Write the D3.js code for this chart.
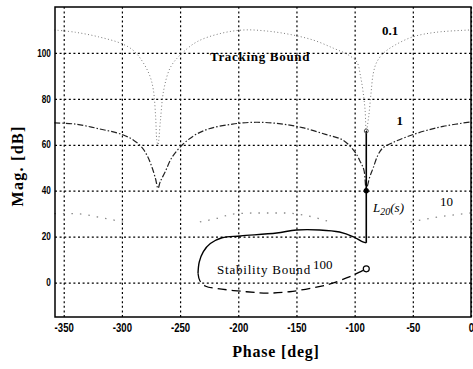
<!DOCTYPE html>
<html>
<head>
<meta charset="utf-8">
<script src="https://cdn.jsdelivr.net/npm/d3@7"></script>
<style>
  body { margin: 0; background: #fff; }
  .grid line { stroke: #000; stroke-width: 1.2; stroke-dasharray: 2,2.6; }
  .grid path { display: none; }
  .xlab text { font-family: "Liberation Sans", Arial, sans-serif; font-size: 12px; font-weight: bold; fill: #000; }
  .ylab text { font-family: "Liberation Sans", Arial, sans-serif; font-size: 10px; font-weight: bold; fill: #000; }
  .title { font-family: "Liberation Serif", "Times New Roman", serif; font-weight: bold; font-size: 16px; fill: #000; }
  .note { font-family: "Liberation Serif", "Times New Roman", serif; font-size: 13px; fill: #000; }
</style>
</head>
<body>
<script>
var xTicks = [-350, -300, -250, -200, -150, -100, -50, 0];
var yTicks = [0, 20, 40, 60, 80, 100];

// tracking bound, w = 0.1
var track01Phase = [-358, -340, -320, -300, -290, -282, -276, -273, -271, -270, -269, -267, -264, -258, -248, -235, -215, -195, -175, -155, -135, -118, -105, -98, -95, -93, -91, -90, -88, -86, -84, -81, -75, -65, -50, -30, 0];
var track01Mag = [110, 109, 107, 104, 101, 96, 90, 84, 72, 62, 60, 70, 84, 94, 100, 105, 108.5, 110, 109.5, 108, 105.5, 102, 99, 96, 90, 84, 75, 66, 72, 82, 91, 96, 100, 103.5, 107, 109, 110];

// tracking bound, w = 1
var track1Phase = [-358, -340, -320, -300, -290, -283, -278, -274, -271, -269, -267, -263, -257, -248, -238, -225, -205, -185, -165, -145, -125, -110, -100, -95, -92, -90, -87, -84, -80, -76, -67, -55, -40, -24, 0];
var track1Mag = [69.5, 69, 67, 64.5, 62, 59, 55, 50, 45, 41, 44, 48, 54.5, 60, 64, 67, 69, 69.8, 69.2, 67.5, 64.5, 62, 57, 52.5, 49, 41, 46, 50, 55.5, 58.5, 61, 63.5, 66, 68, 70];

// tracking bound, w = 10 (null = not visible)
var track10Phase = [-358, -340, -320, -305, -296, -265, -233, -218, -205, -185, -160, -140, -121, -86, -52, -29, 0];
var track10Mag = [30, 30, 28.5, 27, 26, null, 26.4, 28, 29.8, 30.3, 30.3, 29, 26.4, null, 26.4, 28.5, 30.3];

// stability bound, w = 100
var stabTopPhase = [-234.6, -233.5, -230, -224, -214, -198, -167, -150, -130, -113, -101, -93, -90];
var stabTopMag = [4, 9, 13.5, 17, 19.5, 20.3, 21.6, 22.9, 22.9, 22, 19.9, 17.7, 17.3];
var stabBotPhase = [-234.6, -233, -228, -218, -193, -175, -156, -136, -121, -107, -100, -94, -90];
var stabBotMag = [4, 0.8, -1.6, -2.6, -4, -4.6, -4, -2.3, -0.6, 2, 3.5, 5, 6];

// loop L20(s)
var l20Phase = [-90, -90, -90];
var l20Mag = [17.3, 40, 66];

var margin = {top: 7, right: 2, bottom: 52, left: 55},
    width = 416,
    height = 310;

var x = d3.scaleLinear().domain([-357.5, 0]).range([0, width]);
var y = d3.scaleLinear().domain([-15, 120]).range([height, 0]);

var svg = d3.select("body").append("svg")
    .attr("width", width + margin.left + margin.right)
    .attr("height", height + margin.top + margin.bottom);

var g = svg.append("g")
    .attr("transform", "translate(" + margin.left + "," + margin.top + ")");

// grid
g.append("g")
    .attr("class", "grid")
    .attr("transform", "translate(0," + height + ")")
    .call(d3.axisBottom(x).tickValues(xTicks).tickSize(-height).tickFormat(""));
g.append("g")
    .attr("class", "grid")
    .call(d3.axisLeft(y).tickValues(yTicks).tickSize(-width).tickFormat(""));

// tick labels (plain hyphen, like the original)
var plain = function(d) { return String(d); };

var xa = g.append("g")
    .attr("class", "xlab")
    .attr("transform", "translate(0," + height + ")")
    .call(d3.axisBottom(x).tickValues(xTicks).tickSize(0).tickPadding(6).tickFormat(plain));
xa.select(".domain").remove();
xa.selectAll("text").attr("transform", "scale(0.8,1)");

var ya = g.append("g")
    .attr("class", "ylab")
    .call(d3.axisLeft(y).tickValues(yTicks).tickSize(0).tickPadding(5).tickFormat(plain));
ya.select(".domain").remove();
ya.selectAll("text").attr("transform", "scale(0.82,1)");

function zipped(ph, mg) {
  return ph.map(function(p, i) { return [p, mg[i]]; });
}

var line = d3.line()
    .defined(function(d) { return d[1] != null; })
    .x(function(d) { return x(d[0]); })
    .y(function(d) { return y(d[1]); })
    .curve(d3.curveMonotoneX);

var lineC = d3.line()
    .x(function(d) { return x(d[0]); })
    .y(function(d) { return y(d[1]); })
    .curve(d3.curveCatmullRom);

// tracking bounds
g.append("path")
    .attr("d", lineC(zipped(track01Phase, track01Mag)))
    .attr("fill", "none").attr("stroke", "#7a7a7a")
    .attr("stroke-width", 1).attr("stroke-dasharray", "1,2.4");

g.append("path")
    .attr("d", lineC(zipped(track1Phase, track1Mag)))
    .attr("fill", "none").attr("stroke", "#222")
    .attr("stroke-width", 1.2).attr("stroke-dasharray", "6,2,1.5,2");

g.append("path")
    .attr("d", line(zipped(track10Phase, track10Mag)))
    .attr("fill", "none").attr("stroke", "#8a8a8a")
    .attr("stroke-width", 1.3).attr("stroke-dasharray", "1.5,7");

// stability bound
g.append("path")
    .attr("d", lineC(zipped(stabTopPhase, stabTopMag)))
    .attr("fill", "none").attr("stroke", "#000").attr("stroke-width", 1.4);

g.append("path")
    .attr("d", lineC(zipped(stabBotPhase, stabBotMag)))
    .attr("fill", "none").attr("stroke", "#000")
    .attr("stroke-width", 1.3).attr("stroke-dasharray", "9,5");

g.append("circle")
    .attr("cx", x(stabBotPhase[stabBotPhase.length - 1]))
    .attr("cy", y(stabBotMag[stabBotMag.length - 1]))
    .attr("r", 3).attr("fill", "none").attr("stroke", "#000").attr("stroke-width", 1.2);

// L20(s)
var l20 = zipped(l20Phase, l20Mag);
g.append("path")
    .attr("d", d3.line().x(function(d) { return x(d[0]); }).y(function(d) { return y(d[1]); })(l20))
    .attr("fill", "none").attr("stroke", "#000").attr("stroke-width", 1.6);
g.append("circle")
    .attr("cx", x(l20[1][0])).attr("cy", y(l20[1][1]))
    .attr("r", 2.6).attr("fill", "#000");
g.append("circle")
    .attr("cx", x(l20[2][0])).attr("cy", y(l20[2][1]))
    .attr("r", 2).attr("fill", "none").attr("stroke", "#555");

// frame
g.append("rect")
    .attr("width", width).attr("height", height)
    .attr("fill", "none").attr("stroke", "#000").attr("stroke-width", 1.5);

// annotations
g.append("text").attr("class", "note")
    .attr("x", x(-224.3)).attr("y", y(96.6))
    .attr("font-weight", "bold").attr("letter-spacing", 0.7)
    .text("Tracking Bound");
g.append("text").attr("class", "note")
    .attr("x", x(-76.5)).attr("y", y(107.8))
    .attr("font-weight", "bold")
    .text("0.1");
g.append("text").attr("class", "note")
    .attr("x", x(-64)).attr("y", y(68.6))
    .attr("font-weight", "bold")
    .text("1");
g.append("text").attr("class", "note")
    .attr("x", x(-26.7)).attr("y", y(33.3))
    .text("10");
g.append("text").attr("class", "note")
    .attr("x", x(-218.3)).attr("y", y(3.7))
    .attr("letter-spacing", 0.8)
    .text("Stability Bound");
g.append("text").attr("class", "note")
    .attr("x", x(-135.8)).attr("y", y(5.8))
    .text("100");

var lt = g.append("text").attr("class", "note")
    .attr("x", x(-84.2)).attr("y", y(30.7))
    .attr("font-style", "italic").attr("font-size", "14px");
lt.append("tspan").text("L");
lt.append("tspan").attr("font-size", "10px").attr("dy", 3).text("20");
lt.append("tspan").attr("dy", -3).text("(s)");

// axis titles
svg.append("text").attr("class", "title")
    .attr("x", 276).attr("y", 357)
    .attr("text-anchor", "middle").attr("letter-spacing", 0.8)
    .text("Phase [deg]");
svg.append("text").attr("class", "title")
    .attr("transform", "translate(23,166) rotate(-90)")
    .attr("text-anchor", "middle").attr("letter-spacing", 1.3)
    .text("Mag. [dB]");
</script>
</body>
</html>
